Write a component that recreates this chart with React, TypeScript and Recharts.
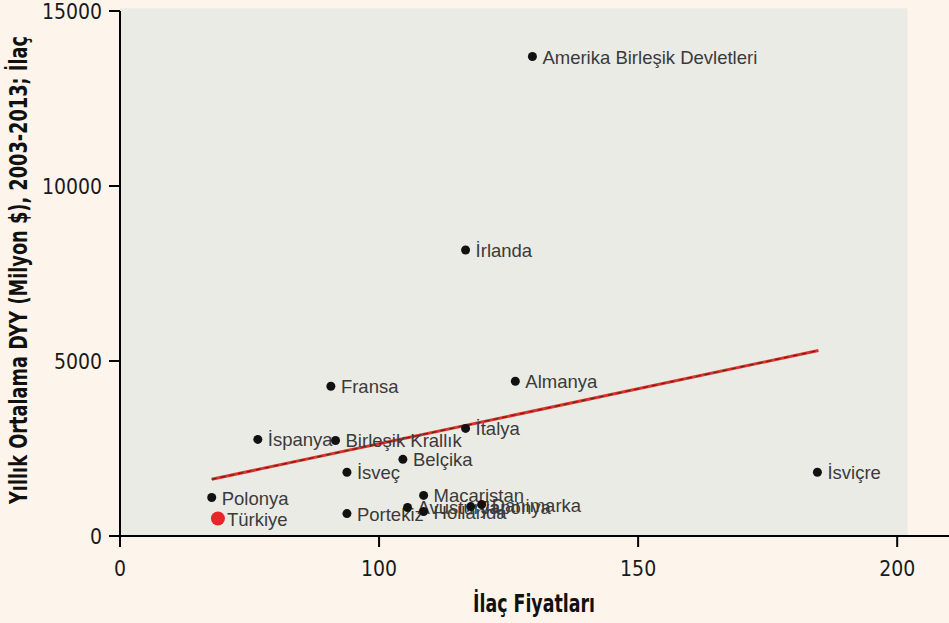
import React from 'react';
import {
  ScatterChart,
  Scatter,
  XAxis,
  YAxis,
  ReferenceArea,
  ReferenceLine,
} from 'recharts';

// Ülkeler, ilaç fiyat endeksi ve yıllık ortalama DYY (milyon $)
const countries = [
  'Amerika Birleşik Devletleri',
  'İrlanda',
  'Fransa',
  'Almanya',
  'İtalya',
  'İspanya',
  'Birleşik Krallık',
  'Belçika',
  'İsveç',
  'Polonya',
  'Türkiye',
  'Portekiz',
  'Macaristan',
  'Avusturya',
  'Hollanda',
  'Japonya',
  'Danimarka',
  'İsviçre',
];
const prices = [129.6, 116.7, 90.7, 126.3, 116.7, 76.6, 91.6, 104.6, 93.8, 67.7, 68.9, 93.8, 108.6, 105.5, 108.6, 117.7, 119.8, 184.6];
const fdi = [13700, 8170, 4280, 4420, 3075, 2760, 2730, 2190, 1820, 1100, 500, 640, 1160, 815, 700, 840, 900, 1820];
const highlight = 'Türkiye';

const xTicks = [50, 100, 150, 200];
const yTicks = [0, 5000, 10000, 15000];
// trend çizgisinin uçları
const trendStart = { x: 67.7, y: 1620 };
const trendEnd = { x: 184.8, y: 5300 };

const points = countries.map((name, i) => ({ name, x: prices[i], y: fdi[i] }));

const tickFont = "'Liberation Sans Narrow', 'Arial Narrow', 'DejaVu Sans Condensed', sans-serif";
const labelFont = "'Liberation Sans', Arial, sans-serif";

const XTick = ({ x, y, payload }: any) => (
  <text x={x} y={y + 27} textAnchor="middle" fontFamily={tickFont} fontSize={21} fill="#1a1a1a">
    {payload.value === 50 ? '0' : payload.value}
  </text>
);

const YTick = ({ x, y, payload }: any) => (
  <text x={x - 5} y={y + 8} textAnchor="end" fontFamily={tickFont} fontSize={21} fill="#1a1a1a">
    {payload.value}
  </text>
);

const PointShape = (props: any) => {
  const { cx, cy, payload } = props;
  const hot = payload.name === highlight;
  return (
    <g>
      <circle cx={cx} cy={cy} r={hot ? 7 : 4.5} fill={hot ? '#e8262a' : '#111'} />
      <text
        x={cx + (hot ? 9 : 10)}
        y={cy + 7}
        fontFamily={labelFont}
        fontSize={18.5}
        fill="#3a3a3a"
      >
        {payload.name}
      </text>
    </g>
  );
};

const App: React.FC = () => {
  return (
    <div style={{ position: 'absolute', left: 0, top: 0, width: 949, height: 623, background: '#fdf5ec' }}>
      <ScatterChart width={949} height={623} margin={{ top: 11, right: 0, left: 0, bottom: 0 }}>
        <XAxis
          type="number"
          dataKey="x"
          domain={[50, 210]}
          ticks={xTicks}
          allowDataOverflow
          height={87}
          tickSize={11}
          axisLine={{ stroke: '#000', strokeWidth: 2 }}
          tickLine={{ stroke: '#000', strokeWidth: 2 }}
          tick={<XTick />}
        />
        <YAxis
          type="number"
          dataKey="y"
          domain={[0, 15000]}
          ticks={yTicks}
          allowDataOverflow
          width={120}
          tickSize={11}
          axisLine={{ stroke: '#000', strokeWidth: 2 }}
          tickLine={{ stroke: '#000', strokeWidth: 2 }}
          tick={<YTick />}
        />
        <ReferenceArea x1={50} x2={202} y1={0} y2={15080} ifOverflow="visible" fill="#ebebe6" fillOpacity={1} stroke="none" />
        <ReferenceLine segment={[trendStart, trendEnd]} stroke="#d8352c" strokeWidth={3} />
        <ReferenceLine segment={[trendStart, trendEnd]} stroke="#6e1f19" strokeWidth={1.2} strokeDasharray="5 4" />
        <Scatter data={points} shape={<PointShape />} isAnimationActive={false} />
      </ScatterChart>
      <svg width={949} height={623} style={{ position: 'absolute', left: 0, top: 0, pointerEvents: 'none' }}>
        <text
          x={534}
          y={612}
          textAnchor="middle"
          fontFamily={tickFont}
          fontWeight="bold"
          fontSize={25}
          fill="#111"
          textLength={122}
          lengthAdjust="spacingAndGlyphs"
        >
          İlaç Fiyatları
        </text>
        <text
          transform="translate(27, 270) rotate(-90)"
          textAnchor="middle"
          fontFamily={tickFont}
          fontWeight="bold"
          fontSize={24}
          fill="#111"
          textLength={468}
          lengthAdjust="spacingAndGlyphs"
        >
          Yıllık Ortalama DYY (Milyon $), 2003-2013; İlaç
        </text>
      </svg>
    </div>
  );
};

export default App;
